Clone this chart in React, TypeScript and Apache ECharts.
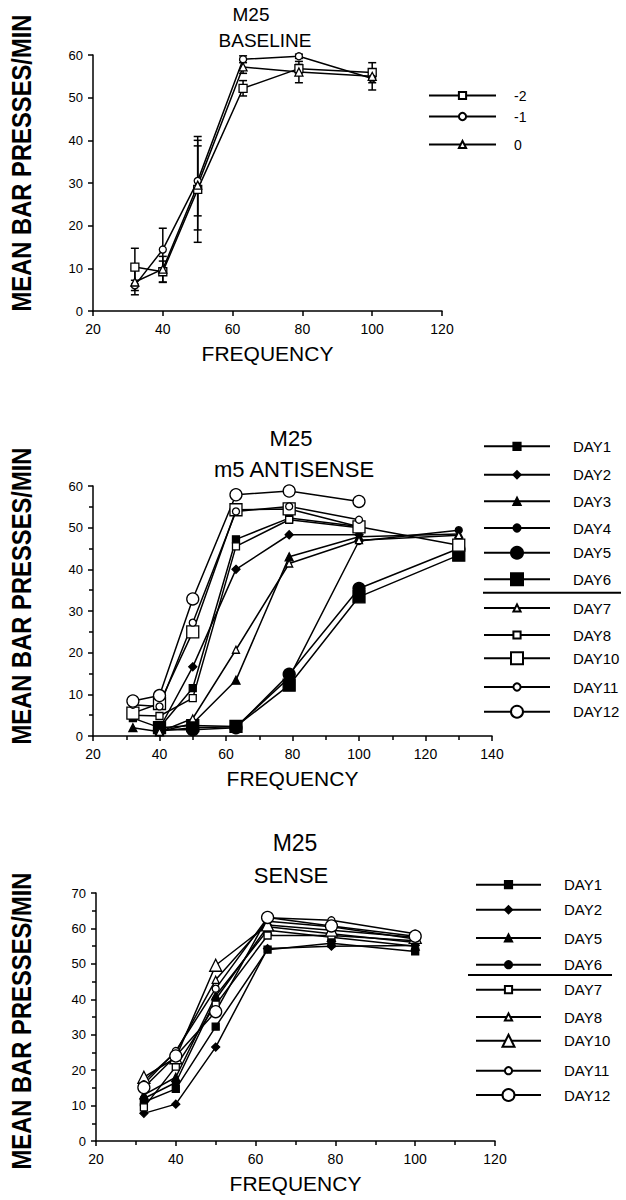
import React, { useEffect, useRef } from "react";
import * as echarts from "echarts";

const FONT = "'Liberation Sans', Arial, Helvetica, sans-serif";

// ---------- Panel 1: BASELINE ----------
const baseFreq = [32, 40, 50, 63, 79, 100];
const baseNames = ["-2", "-1", "0"];
const baseM2 = [10.3, 9.2, 28.5, 52.2, 56.8, 55.9];
const baseM1 = [6.0, 14.4, 30.5, 59.0, 59.7, 54.5];
const base0 = [6.8, 9.8, 29.5, 57.2, 56.0, 55.0];
const baseM2Err = [4.4, 2.5, 12.4, 1.8, 1.0, 0.8];
const baseM1Err = [1.2, 5.0, 8.2, 0.8, 0.5, 1.0];
const base0Err = [3.0, 3.0, 10.5, 1.5, 2.5, 3.2];

// ---------- Panel 2: m5 ANTISENSE ----------
const antiFreq = [32, 40, 50, 63, 79, 100, 130];
const antiNames = ["DAY1", "DAY2", "DAY3", "DAY4", "DAY5", "DAY6", "DAY7", "DAY8", "DAY10", "DAY11", "DAY12"];
const antiDay1 = [4.3, 2.0, 11.5, 47.2, 52.3, 50.3, null];
const antiDay2 = [null, 1.8, 16.6, 40.0, 48.3, 48.3, null];
const antiDay3 = [2.0, 1.0, 3.0, 13.4, 43.0, 47.8, 48.5];
const antiDay4 = [null, 1.2, 2.0, 2.2, 14.0, 46.8, 49.4];
const antiDay5 = [null, 1.5, 1.5, 2.0, 14.8, 35.4, 45.0];
const antiDay6 = [null, 2.0, 2.5, 2.3, 12.2, 33.4, 43.4];
const antiDay7 = [null, 1.0, 4.2, 20.7, 41.4, 47.0, 48.2];
const antiDay8 = [5.0, 4.8, 9.1, 45.5, 51.9, 50.0, null];
const antiDay10 = [5.5, 7.8, 25.0, 54.3, 54.5, 50.2, 45.8];
const antiDay11 = [7.5, 7.1, 27.2, 53.9, 55.1, 51.9, null];
const antiDay12 = [8.4, 9.7, 32.9, 57.9, 58.8, 56.3, null];

// ---------- Panel 3: SENSE ----------
const senseFreq = [32, 40, 50, 63, 79, 100];
const senseNames = ["DAY1", "DAY2", "DAY5", "DAY6", "DAY7", "DAY8", "DAY10", "DAY11", "DAY12"];
const senseDay1 = [11.0, 14.7, 32.3, 54.0, 55.8, 53.5];
const senseDay2 = [7.8, 10.4, 26.5, 54.3, 55.0, 55.2];
const senseDay5 = [13.0, 18.0, 41.0, 59.5, 57.5, 55.0];
const senseDay6 = [12.0, 16.5, 40.0, 60.5, 58.5, 56.0];
const senseDay7 = [9.5, 21.0, 38.5, 58.0, 58.0, 56.5];
const senseDay8 = [17.0, 25.0, 45.5, 62.0, 60.5, 57.0];
const senseDay10 = [18.0, 23.5, 49.6, 61.0, 59.5, 57.5];
const senseDay11 = [16.0, 25.4, 43.0, 63.0, 62.3, 58.5];
const senseDay12 = [15.1, 24.0, 36.5, 63.1, 60.7, 57.8];

const AXIS_NAME_X = "FREQUENCY";
const AXIS_NAME_Y = "MEAN BAR PRESSES/MIN";

type Sty = { symbol: string; size: number; filled: boolean };
const S = (symbol: string, size: number, filled: boolean): Sty => ({ symbol, size, filled });

function lineSeries(name: string, freqs: number[], values: (number | null)[], st: Sty) {
  return {
    type: "line",
    name,
    data: freqs.map((f, i) => [f, values[i]]).filter((d) => d[1] != null),
    symbol: st.symbol,
    symbolSize: st.size,
    showSymbol: true,
    lineStyle: { color: "#000", width: 1.5 },
    itemStyle: { color: st.filled ? "#000" : "#fff", borderColor: "#000", borderWidth: 1.3 },
    emphasis: { disabled: true },
    silent: true,
    z: st.filled ? 3 : 4,
  };
}

function errSeries(freqs: number[], vals: number[], errs: number[]) {
  return {
    type: "custom",
    silent: true,
    z: 2,
    data: freqs.map((f, i) => [f, vals[i] - errs[i], vals[i] + errs[i]]),
    encode: { x: 0, y: [1, 2] },
    renderItem: (_p: any, api: any) => {
      const x = api.value(0);
      const a = api.coord([x, api.value(2)]);
      const b = api.coord([x, api.value(1)]);
      const w = 4;
      const st = { stroke: "#000", lineWidth: 1.5 };
      return {
        type: "group",
        children: [
          { type: "line", shape: { x1: a[0], y1: a[1], x2: b[0], y2: b[1] }, style: st },
          { type: "line", shape: { x1: a[0] - w, y1: a[1], x2: a[0] + w, y2: a[1] }, style: st },
          { type: "line", shape: { x1: b[0] - w, y1: b[1], x2: b[0] + w, y2: b[1] }, style: st },
        ],
      };
    },
  };
}

const axisLineStyle = { color: "#000", width: 1.5 };

function xAxis(max: number, minor: boolean, nameGap: number) {
  return {
    type: "value",
    min: 20,
    max,
    interval: 20,
    name: AXIS_NAME_X,
    nameLocation: "middle",
    nameGap,
    nameTextStyle: { fontSize: 21, fontFamily: FONT, color: "#000" },
    axisLine: { show: true, onZero: false, lineStyle: axisLineStyle },
    axisTick: { show: true, length: 5, lineStyle: axisLineStyle },
    minorTick: { show: minor, splitNumber: 2, length: 4, lineStyle: axisLineStyle },
    splitLine: { show: false },
    minorSplitLine: { show: false },
    axisLabel: { color: "#000", fontSize: 14, fontFamily: FONT, margin: 11 },
  };
}

function yAxis(max: number, minor: boolean) {
  return {
    type: "value",
    min: 0,
    max,
    interval: 10,
    axisLine: { show: true, lineStyle: axisLineStyle },
    axisTick: { show: true, length: 5, lineStyle: axisLineStyle },
    minorTick: { show: minor, splitNumber: 2, length: 4, lineStyle: axisLineStyle },
    splitLine: { show: false },
    minorSplitLine: { show: false },
    axisLabel: { color: "#000", fontSize: 13, fontFamily: FONT, margin: 10 },
  };
}

function legends(names: string[], styles: Sty[], rows: number[], left: number, itemWidth: number, pad: number, fontSize: number) {
  return names.map((n, i) => {
    const h = styles[i].size >= 11 ? 15 : 9;
    return {
      data: [n],
      left,
      top: rows[i] - h / 2,
      itemWidth,
      itemHeight: h,
      padding: 0,
      selectedMode: false,
      textStyle: { fontSize, fontFamily: FONT, color: "#000", padding: [0, 0, 0, pad] },
    };
  });
}

function titles(items: { text: string; x: number; top: number; size: number }[]) {
  return items.map((t) => ({
    text: t.text,
    left: t.x,
    top: t.top,
    textAlign: "center",
    padding: 0,
    textStyle: { fontSize: t.size, fontWeight: "normal", fontFamily: FONT, color: "#000" },
  }));
}

function yName(cy: number) {
  return {
    type: "text",
    x: 21,
    y: cy,
    rotation: Math.PI / 2,
    scaleX: 0.88,
    style: {
      text: AXIS_NAME_Y,
      font: `bold 27px ${FONT}`,
      fill: "#000",
      align: "center",
      verticalAlign: "middle",
    },
  };
}

// ---------- Options ----------
const baseStyles = [S("rect", 8, false), S("circle", 7, false), S("triangle", 8, false)];
const baseVals = [baseM2, baseM1, base0];
const baseErrs = [baseM2Err, baseM1Err, base0Err];

const option1 = {
  animation: false,
  backgroundColor: "#fff",
  title: titles([
    { text: "M25", x: 251, top: 5, size: 19 },
    { text: "BASELINE", x: 265, top: 31, size: 19 },
  ]),
  grid: { left: 93, top: 55, width: 349, height: 256, outerBoundsMode: "none" },
  xAxis: xAxis(120, false, 32),
  yAxis: yAxis(60, false),
  legend: legends(baseNames, baseStyles, [93, 114, 142], 428, 67, 13, 14),
  series: [
    ...baseVals.map((v, i) => errSeries(baseFreq, v, baseErrs[i])),
    ...baseVals.map((v, i) => lineSeries(baseNames[i], baseFreq, v, baseStyles[i])),
  ],
  graphic: [yName(163)],
};

const antiStyles = [
  S("rect", 7, true),
  S("diamond", 8, true),
  S("triangle", 8, true),
  S("circle", 7, true),
  S("circle", 12, true),
  S("rect", 12, true),
  S("triangle", 7, false),
  S("rect", 7, false),
  S("rect", 12, false),
  S("circle", 7, false),
  S("circle", 12, false),
];
const antiVals = [antiDay1, antiDay2, antiDay3, antiDay4, antiDay5, antiDay6, antiDay7, antiDay8, antiDay10, antiDay11, antiDay12];

const option2 = {
  animation: false,
  backgroundColor: "#fff",
  title: titles([
    { text: "M25", x: 291, top: 27, size: 22 },
    { text: "m5 ANTISENSE", x: 294, top: 58, size: 22 },
  ]),
  grid: { left: 93, top: 86, width: 399, height: 250, outerBoundsMode: "none" },
  xAxis: xAxis(140, true, 32),
  yAxis: yAxis(60, true),
  legend: legends(antiNames, antiStyles, [43.3, 71.7, 98.3, 125, 152.7, 179.3, 205, 232, 258.3, 284, 311.7], 483, 66, 18, 15),
  series: antiVals.map((v, i) => lineSeries(antiNames[i], antiFreq, v, antiStyles[i])),
  graphic: [
    yName(196),
    { type: "line", shape: { x1: 483, y1: 192.7, x2: 621, y2: 192.7 }, style: { stroke: "#000", lineWidth: 2 } },
  ],
};

const senseStyles = [
  S("rect", 7, true),
  S("diamond", 8, true),
  S("triangle", 8, true),
  S("circle", 7, true),
  S("rect", 7, false),
  S("triangle", 7, false),
  S("triangle", 12, false),
  S("circle", 7, false),
  S("circle", 12, false),
];
const senseVals = [senseDay1, senseDay2, senseDay5, senseDay6, senseDay7, senseDay8, senseDay10, senseDay11, senseDay12];

const option3 = {
  animation: false,
  backgroundColor: "#fff",
  title: titles([
    { text: "M25", x: 295, top: 31, size: 23 },
    { text: "SENSE", x: 291, top: 64, size: 22 },
  ]),
  grid: { left: 96, top: 93, width: 399, height: 248, outerBoundsMode: "none" },
  xAxis: xAxis(120, true, 32),
  yAxis: yAxis(70, true),
  legend: legends(senseNames, senseStyles, [81.7, 106.7, 135, 161.7, 186.7, 214, 240.7, 267.7, 295], 475, 65, 18, 15),
  series: senseVals.map((v, i) => lineSeries(senseNames[i], senseFreq, v, senseStyles[i])),
  graphic: [
    yName(221),
    { type: "line", shape: { x1: 468, y1: 175, x2: 612, y2: 175 }, style: { stroke: "#000", lineWidth: 2 } },
  ],
};

function Panel({ option, top }: { option: any; top: number }) {
  const ref = useRef<HTMLDivElement>(null);
  useEffect(() => {
    const chart = echarts.init(ref.current as HTMLDivElement, null, { renderer: "svg" });
    chart.setOption(option);
    return () => chart.dispose();
  }, [option]);
  return <div ref={ref} style={{ position: "absolute", left: 0, top, width: 626, height: 400 }} />;
}

export default function App() {
  return (
    <div style={{ position: "absolute", left: 0, top: 0, width: 626, height: 1200, background: "#fff" }}>
      <Panel option={option1} top={0} />
      <Panel option={option2} top={400} />
      <Panel option={option3} top={800} />
    </div>
  );
}
